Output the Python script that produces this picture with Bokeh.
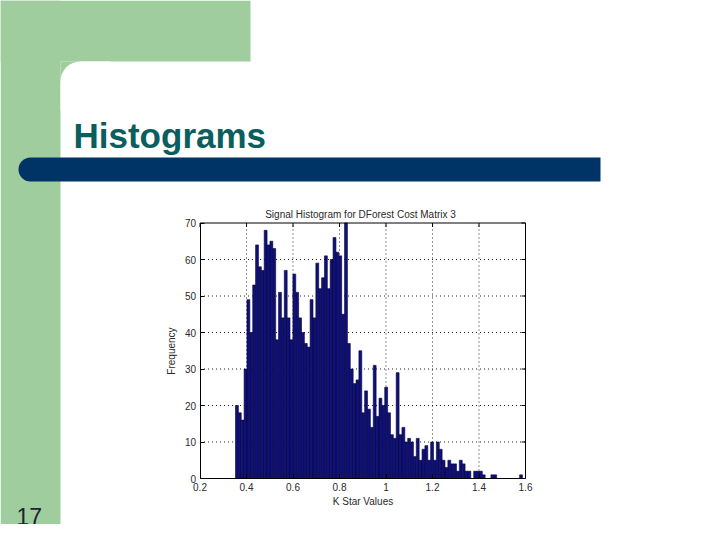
from bokeh.plotting import figure
from bokeh.models import BoxAnnotation, Label, FixedTicker, Range1d
from bokeh.embed import file_html
from bokeh.resources import INLINE

# ---- data ----
counts = [20, 18, 16, 30, 49, 40, 53, 64, 58, 57,
          68, 64, 65, 63, 38, 51, 44, 57, 44, 38,
          56, 51, 44, 40, 37, 36, 49, 44, 59, 52,
          55, 61, 52, 60, 66, 62, 61, 45, 70, 37,
          30, 26, 27, 35, 18, 24, 19, 14, 31, 17,
          22, 20, 25, 18, 12, 11, 29, 12, 14, 10,
          11, 10, 6, 11, 5, 8, 9, 5, 10, 5,
          10, 8, 5, 3, 5, 4, 4, 2, 5, 4,
          2, 2, 0, 2, 2, 2, 1, 0, 0, 1,
          1, 0, 0, 0, 0, 0, 0, 0, 0, 1]
bin_start = 0.3527
bin_width = 0.012343
x_ticks = [0.2, 0.4, 0.6, 0.8, 1.0, 1.2, 1.4, 1.6]
x_tick_labels = ["0.2", "0.4", "0.6", "0.8", "1", "1.2", "1.4", "1.6"]
y_ticks = [0, 10, 20, 30, 40, 50, 60, 70]
slide_title = "Histograms"
slide_number = "17"
chart_title = "Signal Histogram for DForest Cost Matrix 3"
x_label = "K Star Values"
y_label = "Frequency"

left = [bin_start + i * bin_width for i in range(len(counts))]
right = [l + bin_width for l in left]

FONT = "Liberation Sans"
GREEN = "#A0CD9E"
NAVY_BAR = "#003366"
TXT = "#2a2a2a"

# ---- layout: the frame fills the whole canvas; the axes box sits inside it ----
W, H = 704, 524
FL, FR, FT, FB = 199.5, 525.0, 222.5, 478.0   # axes box in canvas pixels

x0, x1 = x_ticks[0], x_ticks[-1]
y0, y1 = y_ticks[0], y_ticks[-1]
kx = (FR - FL) / (x1 - x0)
ky = (FB - FT) / (y1 - y0)
x_range = Range1d(x0 - FL / kx, x0 + (W - FL) / kx)
y_range = Range1d(y0 - (H - FB) / ky, y0 + FB / ky)

p = figure(width=W, height=H, output_backend="svg", toolbar_location=None,
           x_range=x_range, y_range=y_range,
           min_border=0, min_border_left=0, min_border_right=0,
           min_border_top=0, min_border_bottom=0)
p.background_fill_color = "white"
p.border_fill_color = "white"
p.outline_line_color = None
p.xgrid.visible = False
p.ygrid.visible = False

# dotted grid inside the axes box
p.segment(x0=x_ticks[1:-1], y0=y0, x1=x_ticks[1:-1], y1=y1,
          line_color="black", line_dash="1 3", line_alpha=0.85, line_width=1)
p.segment(x0=x0, y0=y_ticks[1:-1], x1=x1, y1=y_ticks[1:-1],
          line_color="black", line_dash="1 3", line_alpha=0.85, line_width=1)

# bars
p.quad(left=left, right=right, bottom=0, top=counts,
       fill_color="#10107A", line_color="#04043A", line_width=0.6)

# top / right edges of the box with inward ticks
p.segment(x0=[x0, x1], y0=[y1, y0], x1=[x1, x1], y1=[y1, y1],
          line_color="black", line_width=1)
p.segment(x0=x_ticks, y0=y1, x1=x_ticks, y1=y1 - 4 / ky, line_color="black", line_width=1)
p.segment(x0=x1, y0=y_ticks, x1=x1 - 4 / kx, y1=y_ticks, line_color="black", line_width=1)

# axes fixed at the box edges
xa, ya = p.xaxis[0], p.yaxis[0]
xa.fixed_location = y0
ya.fixed_location = x0
xa.bounds = (x0, x1)
ya.bounds = (y0, y1)
for ax in (xa, ya):
    ax.major_tick_in = 4
    ax.major_tick_out = 0
    ax.minor_tick_line_color = None
    ax.axis_line_color = "black"
    ax.major_label_text_font = FONT
    ax.major_label_text_font_size = "10px"
    ax.major_label_text_color = TXT
    ax.axis_label_text_font = FONT
    ax.axis_label_text_font_size = "10px"
    ax.axis_label_text_font_style = "normal"
    ax.axis_label_text_color = TXT
    ax.major_label_standoff = 4
xa.ticker = FixedTicker(ticks=x_ticks)
xa.major_label_overrides = dict(zip(x_ticks, x_tick_labels))
ya.ticker = FixedTicker(ticks=y_ticks)
xa.axis_label = x_label
ya.axis_label = y_label
xa.axis_label_standoff = 2
ya.axis_label_standoff = 5


# ---- slide decorations (canvas pixels, y down) ----
def box(l, r, t, b, color, radius=0):
    return BoxAnnotation(left=l, right=r, top=t, bottom=b,
                         left_units="canvas", right_units="canvas",
                         top_units="canvas", bottom_units="canvas",
                         fill_color=color, fill_alpha=1.0, line_color=None,
                         border_radius=radius)


p.add_layout(box(0, 250, 0, 61, GREEN))
p.add_layout(box(0, 60, 0, H, GREEN))
p.add_layout(box(60, 80, 61, 81, GREEN))
p.add_layout(box(60, 110, 61, 110, "white", radius=(20, 0, 0, 0)))
p.add_layout(box(18, 600, 157, 181, NAVY_BAR, radius=(12, 0, 0, 12)))


def label(x, y, text, size, color, style="normal", align="left", baseline="alphabetic"):
    return Label(x=x, y=y, x_units="canvas", y_units="canvas", text=text,
                 text_font=FONT, text_font_size=size, text_font_style=style,
                 text_color=color, text_align=align, text_baseline=baseline)


p.add_layout(label(73, 135, slide_title, "35px", "#0B5E5E", style="bold"))
p.add_layout(label(16, 516, slide_number, "23px", "#1E2233"))
p.add_layout(label(360, 214, chart_title, "10px", TXT, align="center"))

open("out.html", "w").write(file_html(p, INLINE))
